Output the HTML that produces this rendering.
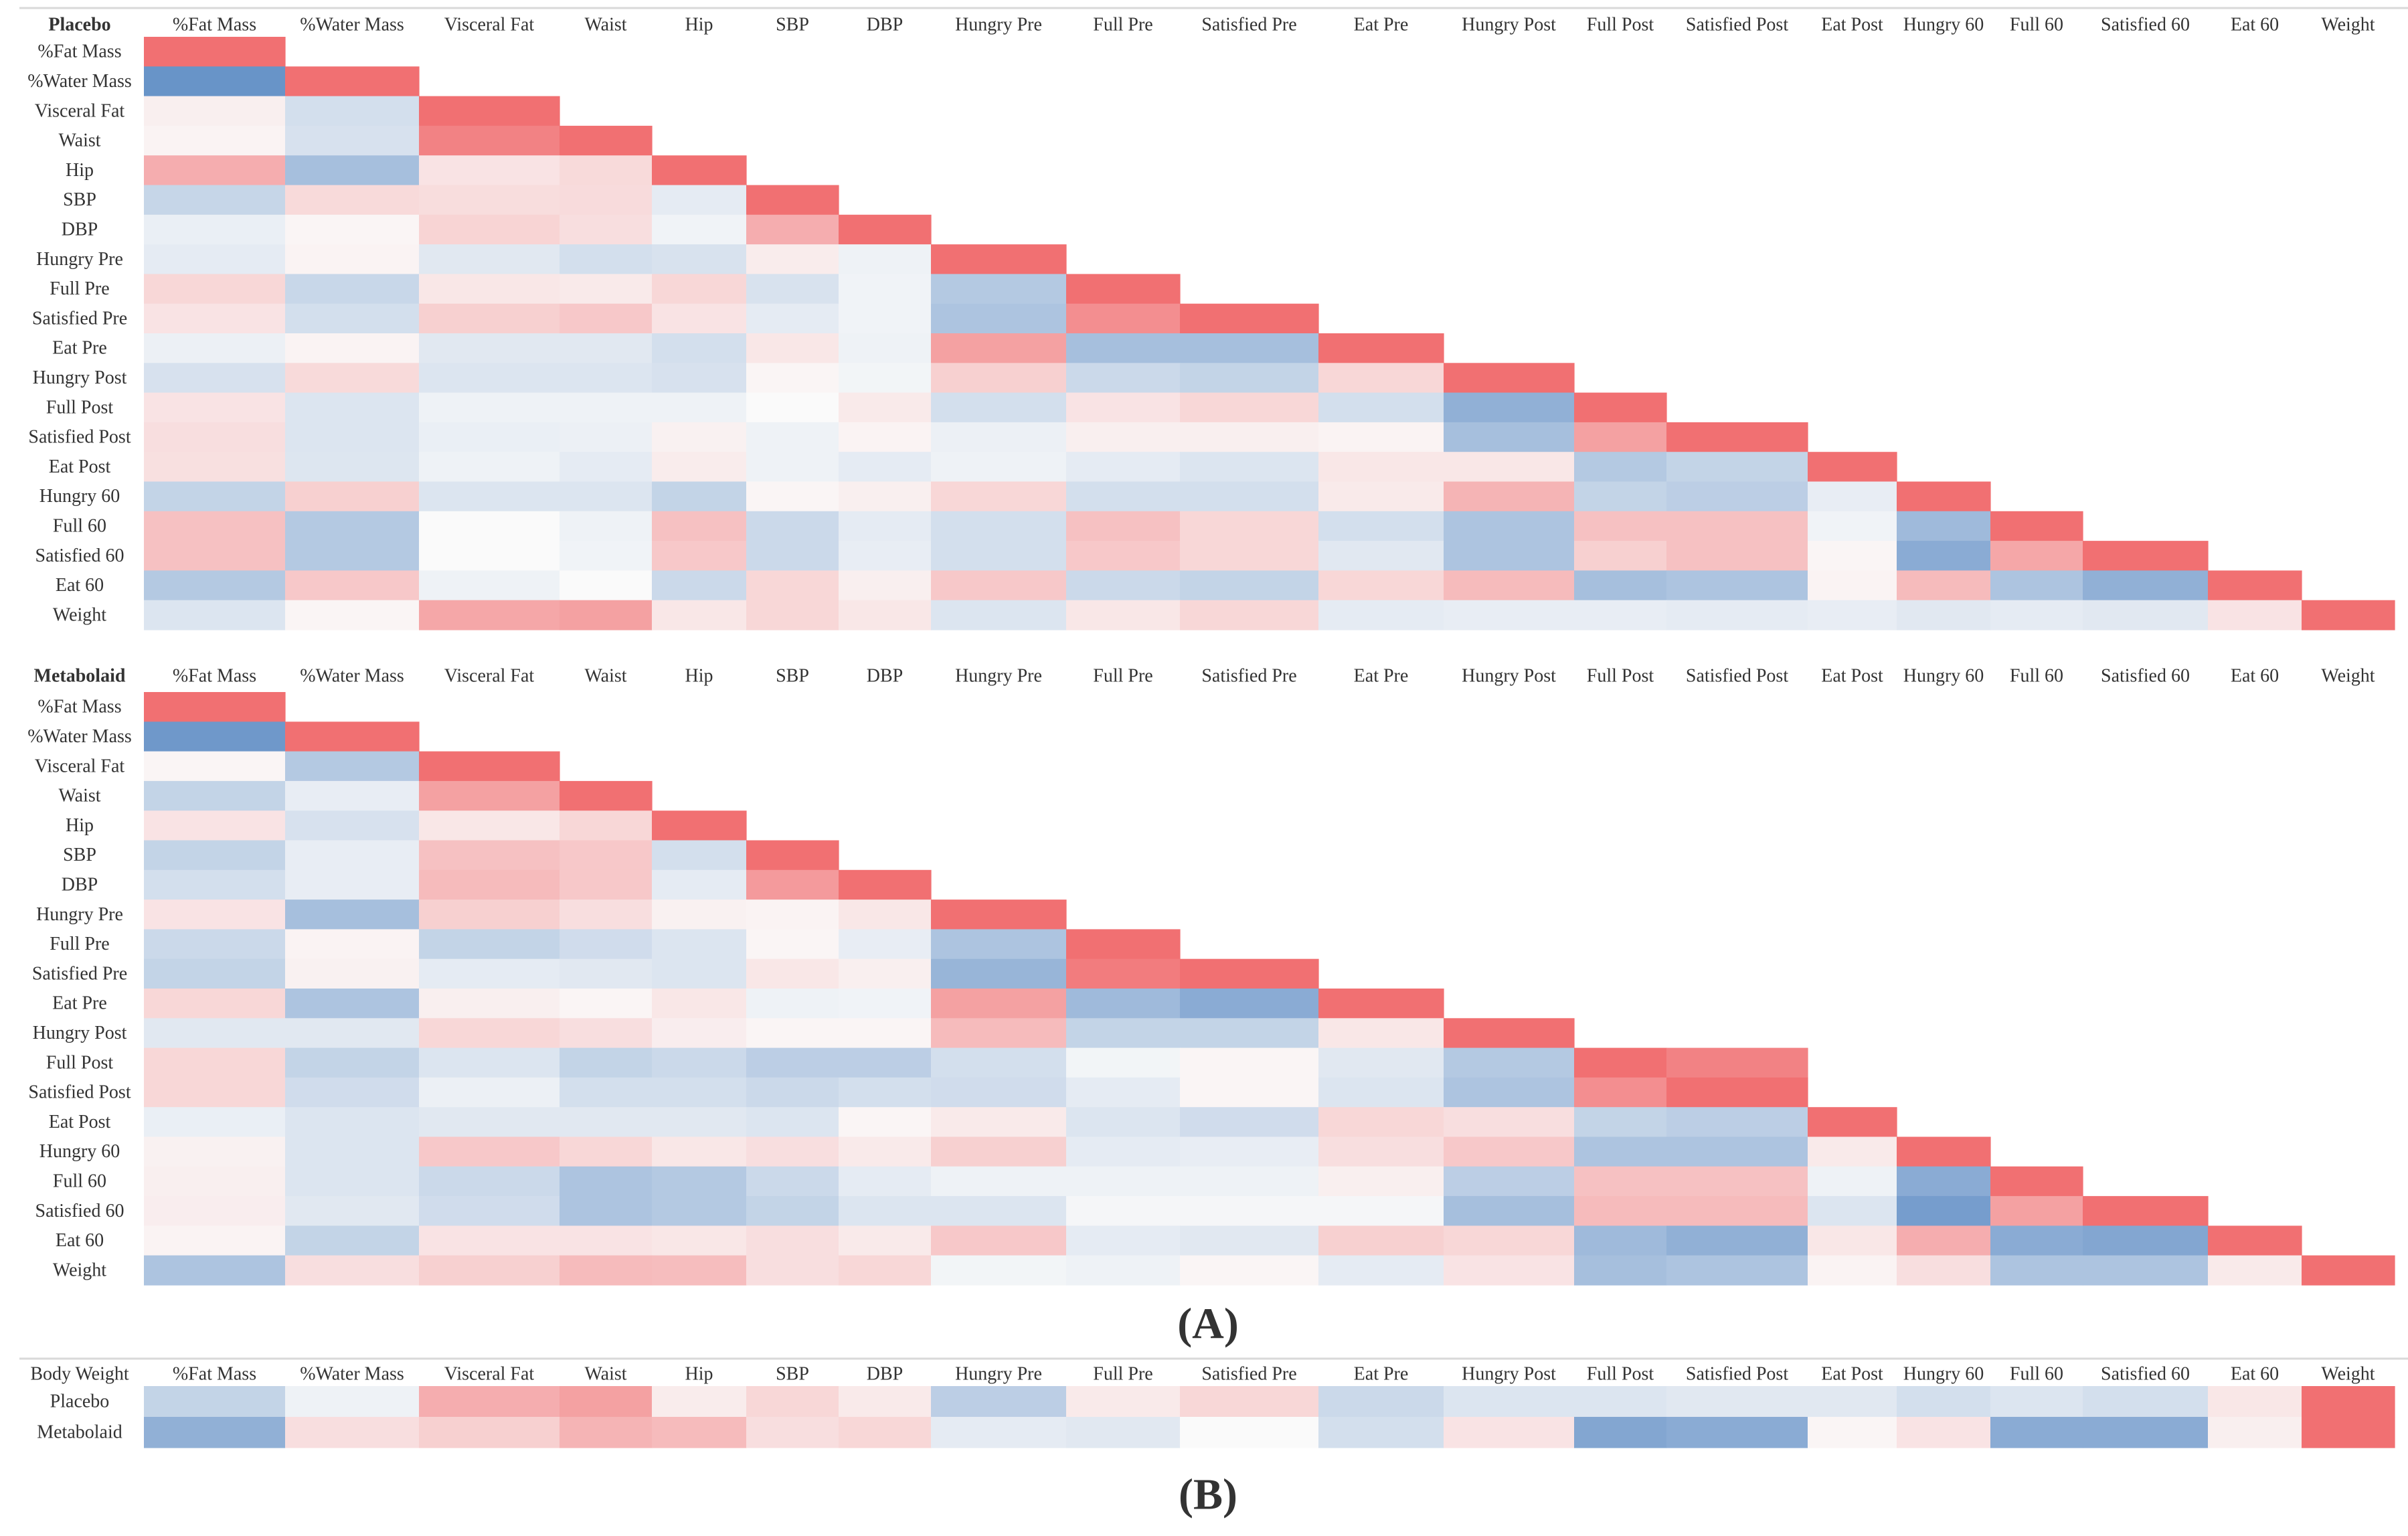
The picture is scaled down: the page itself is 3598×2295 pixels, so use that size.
<!DOCTYPE html>
<html><head><meta charset="utf-8"><style>
html,body{margin:0;padding:0;background:#fff;}
svg{display:block;}
text{font-family:"Liberation Serif",serif;fill:#333;}
</style></head><body>
<svg id="chart" width="3598" height="2295" viewBox="0 0 3598 2295" xmlns="http://www.w3.org/2000/svg"></svg>
<script>
const variables = ["%Fat Mass","%Water Mass","Visceral Fat","Waist","Hip","SBP","DBP","Hungry Pre","Full Pre","Satisfied Pre","Eat Pre","Hungry Post","Full Post","Satisfied Post","Eat Post","Hungry 60","Full 60","Satisfied 60","Eat 60","Weight"];
// lower-triangle correlations (row i holds columns 0..i-1; diagonal = 1)
const placeboCorr = [
 [],
 [-0.95],
 [0.05,-0.2],
 [0.03,-0.18,0.85],
 [0.5,-0.5,0.12,0.18],
 [-0.28,0.18,0.16,0.17,-0.1],
 [-0.07,0.02,0.22,0.15,-0.04,0.5],
 [-0.1,0.03,-0.12,-0.2,-0.17,0.07,-0.05],
 [0.2,-0.27,0.1,0.08,0.2,-0.17,-0.04,-0.4],
 [0.12,-0.2,0.25,0.3,0.12,-0.1,-0.04,-0.45,0.75],
 [-0.06,0.03,-0.12,-0.12,-0.2,0.1,-0.05,0.6,-0.5,-0.5],
 [-0.18,0.18,-0.15,-0.15,-0.18,0.02,-0.03,0.25,-0.25,-0.3,0.2],
 [0.12,-0.15,-0.05,-0.05,-0.05,0.0,0.08,-0.2,0.12,0.2,-0.2,-0.65],
 [0.15,-0.15,-0.07,-0.06,0.04,-0.05,0.03,-0.06,0.05,0.05,0.03,-0.5,0.6],
 [0.14,-0.14,-0.05,-0.1,0.07,-0.05,-0.1,-0.05,-0.1,-0.15,0.1,0.1,-0.4,-0.3],
 [-0.3,0.25,-0.15,-0.15,-0.3,0.02,0.05,0.2,-0.2,-0.2,0.08,0.45,-0.3,-0.35,-0.08],
 [0.35,-0.4,0.0,-0.05,0.35,-0.25,-0.1,-0.2,0.35,0.2,-0.2,-0.45,0.35,0.35,-0.04,-0.55],
 [0.35,-0.4,0.0,-0.04,0.3,-0.25,-0.08,-0.2,0.3,0.2,-0.12,-0.45,0.25,0.35,0.02,-0.7,0.55],
 [-0.4,0.3,-0.05,0.0,-0.25,0.2,0.05,0.3,-0.25,-0.3,0.2,0.4,-0.5,-0.45,0.03,0.4,-0.45,-0.65],
 [-0.15,0.02,0.55,0.6,0.1,0.2,0.1,-0.15,0.1,0.2,-0.1,-0.08,-0.08,-0.1,-0.08,-0.12,-0.1,-0.12,0.12]
];
const metabolaidCorr = [
 [],
 [-0.9],
 [0.02,-0.4],
 [-0.3,-0.08,0.6],
 [0.12,-0.18,0.1,0.2],
 [-0.3,-0.08,0.35,0.3,-0.2],
 [-0.2,-0.08,0.4,0.3,-0.1,0.65],
 [0.12,-0.5,0.25,0.15,0.04,0.03,0.1],
 [-0.25,0.03,-0.3,-0.22,-0.15,0.02,-0.08,-0.45],
 [-0.3,0.04,-0.1,-0.12,-0.15,0.1,0.05,-0.6,0.9],
 [0.2,-0.45,0.05,0.02,0.1,-0.05,-0.04,0.6,-0.55,-0.7],
 [-0.12,-0.12,0.2,0.15,0.06,0.02,0.02,0.4,-0.3,-0.3,0.1],
 [0.2,-0.3,-0.15,-0.3,-0.25,-0.35,-0.35,-0.2,-0.03,0.02,-0.12,-0.4,1,0.85],
 [0.2,-0.22,-0.06,-0.2,-0.2,-0.25,-0.2,-0.22,-0.1,0.02,-0.15,-0.45,0.75],
 [-0.07,-0.15,-0.12,-0.12,-0.12,-0.15,0.02,0.08,-0.15,-0.22,0.2,0.15,-0.3,-0.35],
 [0.04,-0.15,0.3,0.2,0.1,0.15,0.08,0.25,-0.1,-0.08,0.15,0.3,-0.45,-0.45,0.08],
 [0.05,-0.15,-0.25,-0.45,-0.4,-0.25,-0.1,-0.05,-0.05,-0.05,0.05,-0.35,0.35,0.35,-0.05,-0.7],
 [0.06,-0.12,-0.22,-0.45,-0.4,-0.3,-0.15,-0.15,-0.02,-0.02,-0.02,-0.5,0.4,0.4,-0.15,-0.85,0.6],
 [0.03,-0.3,0.12,0.12,0.1,0.15,0.08,0.3,-0.1,-0.12,0.25,0.2,-0.55,-0.65,0.1,0.5,-0.7,-0.75],
 [-0.45,0.15,0.25,0.4,0.38,0.15,0.2,-0.03,-0.05,0.02,-0.1,0.12,-0.5,-0.45,0.03,0.15,-0.45,-0.45,0.08]
];
const bodyWeightGroups = ["Placebo","Metabolaid"];
const bodyWeightPlacebo = [-0.3,-0.05,0.5,0.6,0.07,0.2,0.08,-0.35,0.08,0.2,-0.25,-0.15,-0.15,-0.12,-0.12,-0.2,-0.15,-0.2,0.1,1];
const bodyWeightMetabolaid = [-0.65,0.15,0.25,0.45,0.4,0.15,0.2,-0.1,-0.12,0.0,-0.2,0.12,-0.75,-0.7,0.02,0.12,-0.7,-0.7,0.05,1];

// layout (column edges in px)
const colEdges = [215,426,626,836,974,1115,1253,1391,1593,1763,1970,2157,2352,2490,2701,2834,2974,3112,3299,3439,3578];
const ROW_H = 44.3, LABEL_X = 119, FS = 28;
const svg = document.getElementById('chart');
const NS = 'http://www.w3.org/2000/svg';

function color(v){
  const w=[250,250,250], r=[241,112,114], b=[98,143,198];
  const t=Math.pow(Math.min(1,Math.abs(v)),0.85); const c=v>=0?r:b;
  return 'rgb('+w.map((x,i)=>Math.round(x+(c[i]-x)*t)).join(',')+')';
}
function xPos(j){return colEdges[j];}
function cellW(j){return colEdges[j+1]-colEdges[j];}
function mk(tag,attrs,parent){const e=document.createElementNS(NS,tag);for(const k in attrs)e.setAttribute(k,attrs[k]);(parent||svg).appendChild(e);return e;}
function txt(s,x,y,parent,bold,size){const t=mk('text',{x:x,y:y,'text-anchor':'middle','dominant-baseline':'central','font-size':size||FS},parent);if(bold)t.setAttribute('font-weight','bold');t.textContent=s;return t;}
function line(y,name){const l=mk('line',{x1:29,x2:3598,y1:y,y2:y,stroke:'#d9d9d9','stroke-width':3});}

function drawMatrix(title,data,headerY,top,name){
  const g=mk('g',{});
  
  
  const tt=txt(title,LABEL_X,headerY,g,true);
  
  
  variables.forEach((v,j)=>{
    const t=txt(v,xPos(j)+cellW(j)/2,headerY,g);
    
    
  });
  data.forEach((row,i)=>{
    const y=top+i*ROW_H;
    const t=txt(variables[i],LABEL_X,y+ROW_H/2,g);
    
    
    const vals=row.slice(); if(vals.length<=i) vals[i]=1;
    vals.forEach((val,j)=>{
      const r=mk('rect',{x:xPos(j),y:y,width:cellW(j)+0.6,height:ROW_H+0.6,fill:color(val)},g);
      
      
    });
  });
}

line(12,'top-divider');
drawMatrix('Placebo',placeboCorr,37,55,'placebo-matrix');
drawMatrix('Metabolaid',metabolaidCorr,1010,1034,'metabolaid-matrix');
const la=txt('(A)',1805,1978,null,true,66);


line(2030,'panel-b-divider');

// panel B
const gb=mk('g',{});


const bt=txt('Body Weight',LABEL_X,2053,gb);


variables.forEach((v,j)=>{
  const t=txt(v,xPos(j)+cellW(j)/2,2053,gb);
  
  
});
[bodyWeightPlacebo,bodyWeightMetabolaid].forEach((row,i)=>{
  const y=2071+i*46;
  const t=txt(bodyWeightGroups[i],LABEL_X,y+23,gb);
  
  
  row.forEach((val,j)=>{
    const r=mk('rect',{x:xPos(j),y:y,width:cellW(j)+0.6,height:46.6,fill:color(val)},gb);
    
    
  });
});
const lb=txt('(B)',1805,2233,null,true,66);


</script>
</body></html>
